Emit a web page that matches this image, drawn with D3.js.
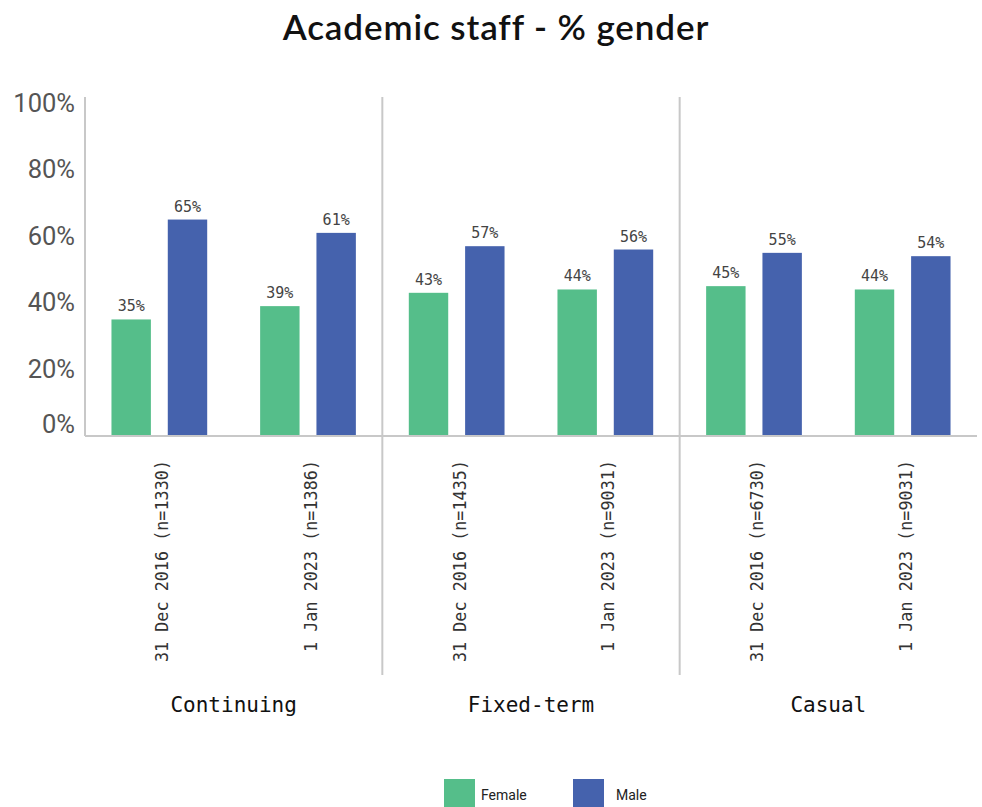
<!DOCTYPE html>
<html>
<head>
<meta charset="utf-8">
<script src="https://cdn.jsdelivr.net/npm/d3@7"></script>
<style>
    body { margin: 0; background: #fff; }
    svg { display: block; }
</style>
</head>
<body>
<script>
const GROUPS = ["Continuing", "Fixed-term", "Casual"];
const PERIODS = [
    ["31 Dec 2016 (n=1330)", "1 Jan 2023 (n=1386)"],
    ["31 Dec 2016 (n=1435)", "1 Jan 2023 (n=9031)"],
    ["31 Dec 2016 (n=6730)", "1 Jan 2023 (n=9031)"]
];
const SERIES = ["Female", "Male"];
const FEMALE = [35, 39, 43, 44, 45, 44];
const MALE = [65, 61, 57, 56, 55, 54];
const Y_TICKS = [0, 20, 40, 60, 80, 100];
const COLORS = { Female: "#55BE8A", Male: "#4562AD" };

const chartWidth = 982, chartHeight = 807;
const plotLeft = 85, plotRight = 977, plotBase = 436, plotTop = 103;

const svg = d3.select("body").append("svg")
    .attr("width", chartWidth)
    .attr("height", chartHeight);

svg.append("text")
    .attr("x", 496)
    .attr("y", 40)
    .attr("text-anchor", "middle")
    .style("font-family", "Lato, 'Noto Sans', sans-serif")
    .style("font-size", "35px")
    .style("font-weight", "600")
    .style("letter-spacing", "0.9px")
    .attr("fill", "#111")
    .text("Academic staff - % gender");

const yScale = d3.scaleLinear([0, 100], [plotBase, plotTop]);
const groupScale = d3.scaleBand().domain(GROUPS).range([plotLeft, plotRight]);
const periodScale = d3.scaleBand().domain([0, 1]).range([0, groupScale.bandwidth()]);
const seriesScale = d3.scaleBand().domain(SERIES)
    .range([0, periodScale.bandwidth()])
    .paddingInner(0.30)
    .paddingOuter(0.47);

// flatten rows
const rows = [];
GROUPS.forEach((g, gi) => {
    PERIODS[gi].forEach((p, pi) => {
        const k = gi * 2 + pi;
        rows.push({ group: g, period: pi, label: p, Female: FEMALE[k], Male: MALE[k] });
    });
});

// y axis
const yAxis = d3.axisLeft(yScale)
    .tickValues(Y_TICKS)
    .tickSize(0)
    .tickPadding(10)
    .tickFormat(d => d + "%");
const yg = svg.append("g")
    .attr("transform", `translate(${plotLeft},0)`)
    .call(yAxis);
yg.select(".domain").remove();
yg.selectAll("text")
    .style("font-family", "Roboto, sans-serif")
    .style("font-size", "25.5px")
    .attr("fill", "#555")
    .attr("dy", (d) => d === 0 ? "-0.15em" : "0.32em");

svg.append("line")
    .attr("x1", plotLeft).attr("x2", plotLeft)
    .attr("y1", 97).attr("y2", plotBase)
    .attr("stroke", "#c8c8c8").attr("stroke-width", 2);

// group dividers
svg.selectAll(".divider")
    .data(GROUPS.slice(1))
    .enter()
    .append("line")
    .attr("class", "divider")
    .attr("x1", d => groupScale(d)).attr("x2", d => groupScale(d))
    .attr("y1", 97).attr("y2", 675)
    .attr("stroke", "#c8c8c8").attr("stroke-width", 2);

// bars
const periodG = svg.selectAll(".period")
    .data(rows)
    .enter()
    .append("g")
    .attr("class", "period")
    .attr("transform", d => `translate(${groupScale(d.group) + periodScale(d.period)},0)`);

periodG.selectAll("rect")
    .data(d => SERIES.map(s => ({ series: s, value: d[s] })))
    .enter()
    .append("rect")
    .attr("x", d => seriesScale(d.series))
    .attr("y", d => yScale(d.value))
    .attr("width", seriesScale.bandwidth())
    .attr("height", d => plotBase - yScale(d.value))
    .attr("fill", d => COLORS[d.series]);

periodG.selectAll(".val")
    .data(d => SERIES.map(s => ({ series: s, value: d[s] })))
    .enter()
    .append("text")
    .attr("class", "val")
    .attr("x", d => seriesScale(d.series) + seriesScale.bandwidth() / 2)
    .attr("y", d => yScale(d.value) - 8)
    .attr("text-anchor", "middle")
    .style("font-family", "'DejaVu Sans Mono', monospace")
    .style("font-size", "15px")
    .attr("fill", "#444")
    .text(d => d.value + "%");

// baseline
svg.append("line")
    .attr("x1", plotLeft).attr("x2", plotRight)
    .attr("y1", plotBase).attr("y2", plotBase)
    .attr("stroke", "#c8c8c8").attr("stroke-width", 2);

// period labels (rotated)
periodG.append("text")
    .attr("transform", `translate(${periodScale.bandwidth() / 2 + 9},460) rotate(-90)`)
    .attr("text-anchor", "end")
    .style("font-family", "'DejaVu Sans Mono', monospace")
    .style("font-size", "16.8px")
    .attr("fill", "#333")
    .text(d => d.label);

// group labels
svg.selectAll(".group-label")
    .data(GROUPS)
    .enter()
    .append("text")
    .attr("class", "group-label")
    .attr("x", d => groupScale(d) + groupScale.bandwidth() / 2)
    .attr("y", 712)
    .attr("text-anchor", "middle")
    .style("font-family", "'DejaVu Sans Mono', monospace")
    .style("font-size", "21px")
    .attr("fill", "#111")
    .text(d => d);

// legend
const legend = svg.append("g").attr("transform", "translate(444,779)");
const legendX = d3.scaleOrdinal().domain(SERIES).range([0, 129]);
const item = legend.selectAll("g")
    .data(SERIES)
    .enter()
    .append("g")
    .attr("transform", d => `translate(${legendX(d)},0)`);
item.append("rect")
    .attr("width", 31).attr("height", 30)
    .attr("fill", d => COLORS[d]);
item.append("text")
    .attr("x", d => d === "Male" ? 43 : 37)
    .attr("y", 21)
    .style("font-family", "Roboto, sans-serif")
    .style("font-size", "14px")
    .attr("fill", "#222")
    .text(d => d);
</script>
</body>
</html>
